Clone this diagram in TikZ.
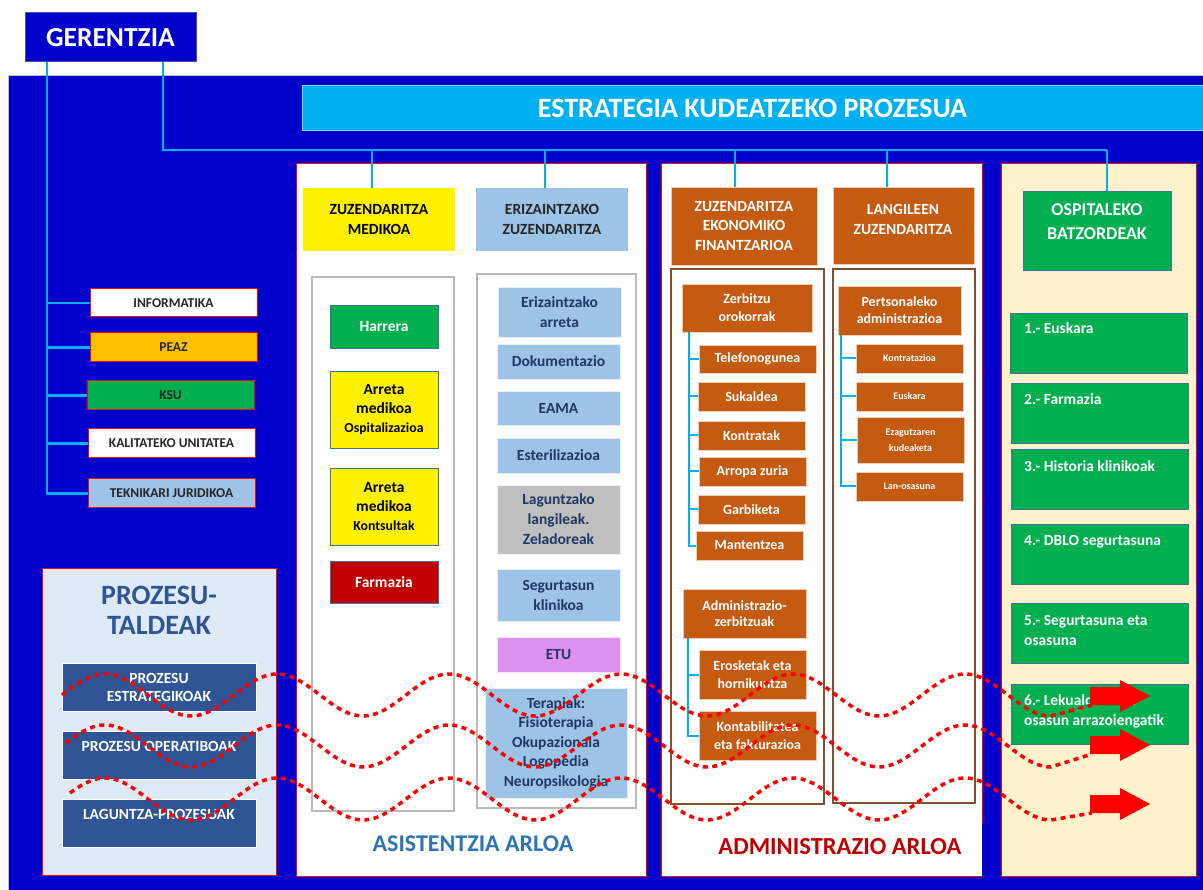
\documentclass[tikz,border=0pt]{standalone}
\usepackage{fontspec}
\setmainfont{Carlito}
\definecolor{bgblue}{RGB}{0,0,204}
\definecolor{cyanl}{RGB}{0,176,240}
\definecolor{lblue}{RGB}{157,195,230}
\definecolor{gold}{RGB}{255,192,0}
\definecolor{grn}{RGB}{0,176,80}
\definecolor{navy}{RGB}{47,85,151}
\definecolor{paleblue}{RGB}{222,235,247}
\definecolor{darkred}{RGB}{192,0,0}
\definecolor{dnavy}{RGB}{31,56,100}
\definecolor{gray1}{RGB}{191,191,191}
\definecolor{violet1}{RGB}{220,145,240}
\definecolor{orng}{RGB}{197,90,17}
\definecolor{brwn}{RGB}{132,80,50}
\definecolor{cream}{RGB}{255,242,204}
\definecolor{asblue}{RGB}{46,117,182}
\definecolor{redb}{RGB}{255,0,0}
\definecolor{bgr}{RGB}{65,113,156}
\newcommand\myfs[2]{\fontsize{#1}{#2}\selectfont\bfseries}
\newcommand\boxnode[7]{\node[#6, minimum width={#4-#2}, minimum height={#5-#3}] (#1) at ({(#2+#4)/2},{(#3+#5)/2}) {#7};}
\tikzset{
  x=1pt, y=-1pt,
  bx/.style={inner sep=0pt, outer sep=0pt, align=center},
  link/.style={draw=cyanl, line width=2.5pt},
  tree/.style={draw=cyanl, line width=2pt},
  sbox/.style={bx, draw=red, line width=1pt, text=black!85, font=\myfs{13.5}{15}},
  colbox/.style={bx, draw=red, line width=1pt},
  pbox/.style={bx, fill=navy, draw=white, line width=1pt, text=white, font=\myfs{15.5}{18}},
  lbbox/.style={bx, fill=lblue, draw=white!75!lblue, line width=0.8pt, text=dnavy, font=\myfs{15.5}{20}},
  ybox/.style={bx, fill=yellow, draw=bgr, line width=0.8pt, text=black, font=\myfs{15.5}{19}},
  obox/.style={bx, fill=orng, draw=white!70!orng, line width=0.8pt, text=white, font=\myfs{14}{18}},
  sobox/.style={bx, fill=orng, draw=white!70!orng, line width=0.8pt, text=white, font=\myfs{10}{16}},
  gbox/.style={bx, fill=grn, draw=bgr, line width=0.8pt, text=white},
  wave/.style={draw=redb, line width=3.5pt, dash pattern=on 5pt off 4.5pt},
  label/.style={inner sep=0pt, align=center}
}
\begin{document}
\begin{tikzpicture}
\fill[white] (0,0) rectangle (1203,890);
\useasboundingbox (0,0) rectangle (1203,890);
% background
\boxnode{bg}{8}{75}{1203}{890}{bx, fill=bgblue, draw=gray!50}{}
\boxnode{ger}{25}{13}{196}{62}{bx, fill=bgblue, draw=gray!60!blue, line width=1pt, text=white, font=\myfs{27.5}{30}}{GERENTZIA}
\boxnode{estr}{302}{86}{1203}{131}{bx, fill=cyanl, draw=white!50!cyanl, line width=1pt, text=white, font=\myfs{28}{30}}{ESTRATEGIA KUDEATZEKO PROZESUA}
% left staff boxes
\boxnode{inf}{90}{289}{257}{317}{sbox, fill=white}{INFORMATIKA}
\boxnode{peaz}{90}{333}{257}{362}{sbox, fill=gold}{PEAZ}
\boxnode{ksu}{87}{381}{254}{410}{sbox, fill=grn}{KSU}
\boxnode{kal}{88}{429}{255}{458}{sbox, fill=white}{KALITATEKO UNITATEA}
\boxnode{tek}{88}{479}{255}{508}{sbox, fill=lblue}{TEKNIKARI JURIDIKOA}
\foreach \b in {inf,peaz,ksu,kal,tek}{\draw[link] ([xshift=22pt]ger.south west) |- (\b.west);}
% columns
\boxnode{asis}{296}{164}{646}{876}{colbox, fill=white}{}
\boxnode{adm}{661}{164}{982}{876}{bx, fill=white}{}
\draw[red, line width=1pt] ([yshift=53pt]adm.south east) |- (adm.north west) |- (adm.south east);
\boxnode{osp}{1001}{164}{1196}{876}{colbox, fill=cream}{}
% heads
\boxnode{zm}{303}{188}{455}{251}{bx, fill=yellow, text=black, font=\myfs{15.5}{20}}{ZUZENDARITZA\\MEDIKOA}
\boxnode{ez}{476}{188}{628}{251}{bx, fill=lblue, text=black!85, font=\myfs{15.5}{20}}{ERIZAINTZAKO\\ZUZENDARITZA}
\boxnode{zef}{671}{187}{817}{265}{obox, font=\myfs{15.5}{19.5}}{ZUZENDARITZA\\EKONOMIKO\\FINANTZARIOA}
\boxnode{lz}{833}{187}{974}{264}{obox}{}
\node[label, text=white, font=\myfs{15.5}{20}] (lzt) at (903,219) {LANGILEEN\\ZUZENDARITZA};
\boxnode{ob}{1023}{191}{1171}{270}{gbox}{}
\node[label, text=white, font=\myfs{18}{24}] (obt) at (1097,222) {OSPITALEKO\\BATZORDEAK};
% top bus
\coordinate (t1) at (372,150);
\coordinate (t2) at (545,150);
\coordinate (t3) at (735,150);
\coordinate (t4) at (887,150);
\coordinate (t5) at (1107,150);
\draw[link] ([xshift=138pt]ger.south west) |- (t5);
\draw[link] (t1) -- (t1 |- zm.north);
\draw[link] (t2) -- (t2 |- ez.north);
\draw[link] (t3) -- (t3 |- zef.north);
\draw[link] (t4) -- (t4 |- lz.north);
\draw[link] (t5) -- (t5 |- ob.north);
% asistentzia
\boxnode{g1}{312}{277}{454}{811}{bx, draw=gray!55, line width=1.2pt}{}
\boxnode{g2}{477}{274}{636}{808}{bx, draw=gray!55, line width=1.2pt}{}
\boxnode{harrera}{330}{305}{438}{348}{gbox, font=\myfs{15.5}{19}}{Harrera}
\boxnode{aro}{330}{371}{438}{448}{ybox}{Arreta\\medikoa\\{\myfs{13.8}{17}Ospitalizazioa}}
\boxnode{ark}{330}{468}{438}{545}{ybox}{Arreta\\medikoa\\{\myfs{13.8}{17}Kontsultak}}
\boxnode{farm}{330}{561}{438}{603}{bx, fill=darkred, draw=bgr, line width=0.8pt, text=white, font=\myfs{15.5}{19}}{Farmazia}
\boxnode{ea}{498}{287}{621}{337}{lbbox}{Erizaintzako\\arreta}
\boxnode{dok}{497}{344}{620}{379}{lbbox}{Dokumentazio}
\boxnode{eama}{497}{391}{620}{425}{lbbox}{EAMA}
\boxnode{est}{497}{438}{620}{473}{lbbox}{Esterilizazioa}
\boxnode{lag}{497}{485}{620}{554}{lbbox, fill=gray1, draw=white!75!gray1}{Laguntzako\\langileak.\\Zeladoreak}
\boxnode{seg}{497}{569}{620}{621}{lbbox}{Segurtasun\\klinikoa}
\boxnode{etu}{497}{637}{620}{672}{lbbox, fill=violet1, draw=white!75!violet1}{ETU}
\boxnode{ter}{485}{688}{627}{798}{lbbox, font=\myfs{15.5}{19.5}}{Terapiak:\\Fisioterapia\\Okupazionala\\Logopedia\\Neuropsikologia}
\node[label, text=asblue, font=\myfs{24}{26}] (asl) at (473,844) {ASISTENTZIA ARLOA};
% administrazio
\boxnode{b1}{671}{269}{824}{804}{bx, draw=brwn, line width=1.2pt}{}
\boxnode{b2}{833}{269}{975}{803}{bx, draw=brwn, line width=1.2pt}{}
\boxnode{zo}{682}{284}{812}{332}{obox}{Zerbitzu\\orokorrak}
\boxnode{tel}{699}{345}{816}{373}{obox}{Telefonogunea}
\boxnode{suk}{698}{382}{805}{411}{obox}{Sukaldea}
\boxnode{kon}{698}{421}{805}{450}{obox}{Kontratak}
\boxnode{arr}{699}{457}{806}{486}{obox}{Arropa zuria}
\boxnode{gar}{698}{495}{805}{524}{obox}{Garbiketa}
\boxnode{man}{696}{531}{803}{560}{obox}{Mantentzea}
\foreach \b in {tel,suk,kon,arr,gar,man}{\draw[tree] ([xshift=7pt]zo.south west) |- (\b.west);}
\boxnode{az}{683}{589}{806}{638}{obox, font=\myfs{14}{16}}{Administrazio-\\zerbitzuak}
\boxnode{ero}{699}{650}{806}{699}{obox}{Erosketak eta\\hornikuntza}
\boxnode{kfa}{699}{711}{816}{760}{obox}{Kontabilitatea\\eta fakturazioa}
\foreach \b in {ero,kfa}{\draw[tree] ([xshift=5pt]az.south west) |- (\b.west);}
\boxnode{pa}{838}{286}{961}{335}{obox, font=\myfs{14}{17}}{Pertsonaleko\\administrazioa}
\boxnode{kz}{856}{344}{963}{373}{sobox}{Kontratazioa}
\boxnode{eus}{856}{382}{963}{411}{sobox}{Euskara}
\boxnode{ezk}{857}{417}{964}{463}{sobox}{Ezagutzaren\\kudeaketa}
\boxnode{lan}{856}{472}{963}{501}{sobox}{Lan-osasuna}
\foreach \b in {kz,eus,ezk,lan}{\draw[tree] ([xshift=3pt]pa.south west) |- (\b.west);}
\node[label, text=darkred, font=\myfs{24.5}{26}] (adl) at (840,847) {ADMINISTRAZIO ARLOA};
% batzordeak
\boxnode{i1}{1010}{313}{1187}{373}{gbox}{}
\boxnode{i2}{1011}{383}{1188}{443}{gbox}{}
\boxnode{i3}{1011}{449}{1188}{509}{gbox}{}
\boxnode{i4}{1011}{524}{1188}{584}{gbox}{}
\boxnode{i5}{1011}{603}{1188}{663}{gbox}{}
\boxnode{i6}{1011}{684}{1188}{744}{gbox}{}
\tikzset{itxt/.style={inner sep=0pt, anchor=west, align=left, text=white, font=\myfs{15.5}{20}}}
\node[itxt] (i1t) at (1024,328) {1.- Euskara};
\node[itxt] (i2t) at (1024,399) {2.- Farmazia};
\node[itxt] (i3t) at (1024,466) {3.- Historia klinikoak};
\node[itxt] (i4t) at (1024,542) {4.- DBLO segurtasuna};
\node[itxt] (i5t) at (1024,630) {5.- Segurtasuna eta\\osasuna};
\node[itxt] (i6t) at (1024,711) {6.- Lekualdatzeak\\osasun arrazoiengatik};
% prozesu taldeak
\boxnode{pt}{42}{568}{276}{875}{colbox, fill=paleblue}{}
\node[label, text=navy, font=\myfs{28}{30}] (ptt) at (159,610) {PROZESU-\\TALDEAK};
\boxnode{pe}{62}{663}{256}{711}{pbox}{PROZESU\\ESTRATEGIKOAK}
\boxnode{po}{62}{731}{256}{779}{pbox}{PROZESU OPERATIBOAK\\~}
\boxnode{pl}{62}{799}{256}{847}{pbox}{LAGUNTZA-PROZESUAK\\~}
% waves and arrows
\foreach \c/\s/\a in {695/62/696, 746/66/745, 799/70/804}{
  \draw[wave] plot[domain=\s:1051, samples=250, smooth] (\x,{\c-21*sin((\x-62)/172*360)}) -- (1092,\a+9);
  \fill[redb] (1090,\a-9) -- (1120,\a-9) -- (1120,\a-16) -- (1150,\a) -- (1120,\a+16) -- (1120,\a+9) -- (1090,\a+9) -- cycle;
}
\end{tikzpicture}
\end{document}
